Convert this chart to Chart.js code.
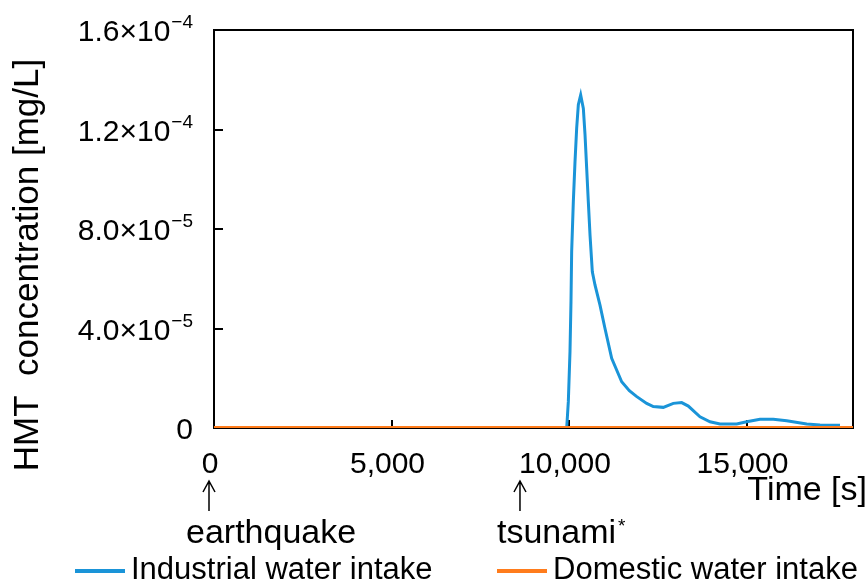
<!DOCTYPE html>
<html>
<head>
<meta charset="utf-8">
<script src="https://cdn.jsdelivr.net/npm/chart.js@4"></script>
<style>
  html, body { margin: 0; padding: 0; background: #fff; }
  #wrap { width: 867px; height: 583px; }
</style>
</head>
<body>
<div id="wrap"><canvas id="hmtChart" width="867" height="583"></canvas></div>
<script>
// Series data (time [s] / concentration [mg/L])
const seriesNames = ['Industrial water intake', 'Domestic water intake'];
const timeIndustrial = [0, 9935, 9981, 10028, 10056, 10075, 10122, 10169, 10216, 10263, 10329,
  10404, 10451, 10498, 10544, 10592, 10657, 10732, 10873, 11014, 11202, 11484, 11700, 11900,
  12188, 12375, 12656, 12938, 13174, 13361, 13690, 13972, 14254, 14723, 15005, 15380, 15755,
  16132, 16696, 17070, 17634];
const concIndustrial = [0, 0, 1.06e-5, 3.07e-5, 5.08e-5, 7.09e-5, 9.1e-5, 1.07e-4, 1.205e-4, 1.30e-4, 1.339e-4,
  1.285e-4, 1.18e-4, 1.044e-4, 9.1e-5, 7.76e-5, 6.28e-5, 5.75e-5, 4.94e-5, 4.0e-5, 2.8e-5, 1.86e-5, 1.5e-5, 1.27e-5,
  9.9e-6, 8.6e-6, 8.3e-6, 9.9e-6, 1.02e-5, 8.8e-6, 4.5e-6, 2.5e-6, 1.6e-6, 1.6e-6, 2.5e-6, 3.5e-6, 3.5e-6,
  2.9e-6, 1.6e-6, 1.2e-6, 1.1e-6];
const timeDomestic = [0, 18000];
const concDomestic = [0, 0];

// Axis ticks (y labels are mantissa + power of ten)
const xTicks = [0, 5000, 10000, 15000];
const xTickLabels = ['0', '5,000', '10,000', '15,000'];
const yTicks = [0, 4e-5, 8e-5, 1.2e-4, 1.6e-4];
const yTickBase = ['0', '4.0×10', '8.0×10', '1.2×10', '1.6×10'];
const yTickExp = ['', '−5', '−5', '−4', '−4'];

// Marked events on the time axis
const eventNames = ['earthquake', 'tsunami'];
const eventTimes = [0, 8760];

const FONT = '"Liberation Sans", Arial, sans-serif';
Chart.defaults.font.family = FONT;
Chart.defaults.color = '#000';

function toPoints(xs, ys) {
    return xs.map((x, i) => ({ x: x, y: ys[i] }));
}

// Frame, inward ticks, y labels, titles, event arrows and legend
const decorations = {
    id: 'decorations',
    beforeDatasetsDraw(chart) {
        const { ctx, chartArea: a, scales: { x, y } } = chart;
        ctx.save();
        ctx.strokeStyle = '#000';
        ctx.lineWidth = 2;
        ctx.strokeRect(a.left, a.top, a.right - a.left, a.bottom - a.top);
        ctx.beginPath();
        xTicks.forEach(v => {
            if (v > x.min && v < x.max) {
                const px = Math.round(x.getPixelForValue(v));
                ctx.moveTo(px, a.bottom);
                ctx.lineTo(px, a.bottom - 8);
            }
        });
        yTicks.forEach(v => {
            if (v > y.min && v < y.max) {
                const py = Math.round(y.getPixelForValue(v));
                ctx.moveTo(a.left, py);
                ctx.lineTo(a.left + 9, py);
            }
        });
        ctx.stroke();
        ctx.restore();
    },
    afterDraw(chart) {
        const { ctx, chartArea: a, scales: { x, y } } = chart;
        ctx.save();
        ctx.fillStyle = '#000';
        ctx.strokeStyle = '#000';

        // y tick labels with superscript exponent
        ctx.textBaseline = 'alphabetic';
        yTicks.forEach((v, i) => {
            const py = y.getPixelForValue(v);
            let right = a.left - 21;
            ctx.textAlign = 'right';
            if (yTickExp[i]) {
                ctx.font = '19px ' + FONT;
                ctx.fillText(yTickExp[i], right, py - 2);
                right -= ctx.measureText(yTickExp[i]).width + 1;
            }
            ctx.font = '30px ' + FONT;
            ctx.fillText(yTickBase[i], right, py + 11);
        });

        // y title
        ctx.save();
        ctx.translate(28, 265);
        ctx.rotate(-Math.PI / 2);
        ctx.font = '35px ' + FONT;
        ctx.textAlign = 'center';
        ctx.textBaseline = 'middle';
        ctx.fillText('HMT  concentration [mg/L]', 0, 0);
        ctx.restore();

        // x title
        ctx.font = '34px ' + FONT;
        ctx.textAlign = 'right';
        ctx.textBaseline = 'alphabetic';
        ctx.fillText('Time [s]', 867, 500);

        // event arrows
        eventNames.forEach((name, i) => {
            const px = x.getPixelForValue(eventTimes[i]) - 5;
            ctx.lineWidth = 1.5;
            ctx.beginPath();
            ctx.moveTo(px, 481);
            ctx.lineTo(px, 511);
            ctx.moveTo(px - 6, 492);
            ctx.lineTo(px, 481);
            ctx.lineTo(px + 6, 492);
            ctx.stroke();
            ctx.font = '34px ' + FONT;
            ctx.textAlign = 'left';
            ctx.fillText(name, px - 23, 543);
            if (name === 'tsunami') {
                const w = ctx.measureText(name).width;
                ctx.font = '19px ' + FONT;
                ctx.fillText('*', px - 23 + w + 2, 532);
            }
        });

        // legend
        const legendX = [75, 497];
        chart.data.datasets.forEach((ds, i) => {
            ctx.strokeStyle = ds.borderColor;
            ctx.lineWidth = 4;
            ctx.beginPath();
            ctx.moveTo(legendX[i], 571);
            ctx.lineTo(legendX[i] + 50, 571);
            ctx.stroke();
            ctx.font = '31px ' + FONT;
            ctx.textAlign = 'left';
            ctx.fillText(ds.label, legendX[i] + 56, 579);
        });
        ctx.restore();
    }
};

new Chart(document.getElementById('hmtChart'), {
    type: 'line',
    data: {
        datasets: [{
            label: seriesNames[0],
            data: toPoints(timeIndustrial, concIndustrial),
            borderColor: '#1A94D8',
            borderWidth: 3,
            pointRadius: 0,
            tension: 0,
            order: 1
        }, {
            label: seriesNames[1],
            data: toPoints(timeDomestic, concDomestic),
            borderColor: '#FF7C1C',
            borderWidth: 4,
            pointRadius: 0,
            tension: 0,
            order: 0
        }]
    },
    options: {
        responsive: false,
        animation: false,
        layout: { padding: { top: 30, right: 14, bottom: 0, left: 0 } },
        plugins: {
            legend: { display: false },
            tooltip: { enabled: false }
        },
        scales: {
            x: {
                type: 'linear',
                min: 0,
                max: 18000,
                grid: { display: false, drawTicks: false },
                border: { display: false },
                afterBuildTicks: scale => { scale.ticks = xTicks.map(v => ({ value: v })); },
                afterFit: scale => { scale.height = 155; },
                ticks: {
                    padding: 19,
                    labelOffset: -4,
                    maxRotation: 0,
                    font: { size: 30 },
                    callback: v => xTickLabels[xTicks.indexOf(v)]
                }
            },
            y: {
                min: 0,
                max: 1.6e-4,
                grid: { display: false, drawTicks: false },
                border: { display: false },
                afterBuildTicks: scale => { scale.ticks = yTicks.map(v => ({ value: v })); },
                afterFit: scale => { scale.width = 214; },
                ticks: { display: false }
            }
        }
    },
    plugins: [decorations]
});
</script>
</body>
</html>
